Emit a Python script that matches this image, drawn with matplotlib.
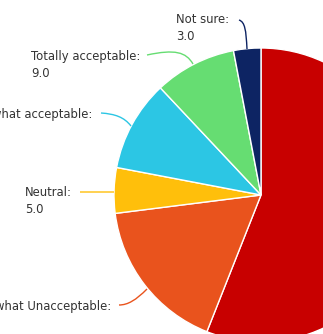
import matplotlib
matplotlib.use("Agg")
import matplotlib.pyplot as plt
from matplotlib.path import Path
from matplotlib.patches import PathPatch

categories = ["Totally Unacceptable", "Somewhat Unacceptable", "Neutral",
              "Somewhat acceptable", "Totally acceptable", "Not sure"]
values = [56.0, 17.0, 5.0, 10.0, 9.0, 3.0]
colors = ["#c80000", "#e9531d", "#ffbf0b", "#2cc6e4", "#66dd72", "#0d2463"]

W, H = 323, 334
fig = plt.figure(figsize=(W / 100, H / 100), dpi=100)
ax = fig.add_axes([0, 0, 1, 1])

cx, cy, r = 261, 195, 147
# y axis inverted: counterclock=True in data space appears clockwise on screen
ax.pie(values, colors=colors, center=(cx, cy), radius=r, startangle=-90,
       counterclock=True, wedgeprops=dict(edgecolor="white", linewidth=1.0),
       frame=True)
ax.set_xlim(0, W)
ax.set_ylim(H, 0)
ax.set_aspect("equal")
ax.axis("off")

# label anchor (x, y, horizontal alignment) and connector paths
label_pos = {
    "Not sure": (176, 13, "left"),
    "Totally acceptable": (31, 50, "left"),
    "Somewhat acceptable": (92, 108, "right"),
    "Neutral": (25, 186, "left"),
    "Somewhat Unacceptable": (111, 300, "right"),
}
connectors = {
    "Not sure": [(239, 20), (245, 22), (246, 30), (247, 49)],
    "Totally acceptable": [(147, 55), (175, 49), (186, 52), (193, 64)],
    "Somewhat acceptable": [(101, 113), (115, 114), (124, 117), (131, 126)],
    "Neutral": [(80, 192), (90, 192), (100, 192), (114, 192)],
    "Somewhat Unacceptable": [(119, 305), (128, 305), (136, 300), (147, 289)],
}

for cat, val, col in zip(categories, values, colors):
    if cat not in label_pos:
        continue
    x, y, ha = label_pos[cat]
    ax.text(x, y, f"{cat}:\n{val:.1f}", ha=ha, va="top", multialignment="left",
            fontsize=8.4, color="#333333", linespacing=1.4,
            family="DejaVu Sans")
    pts = connectors[cat]
    path = Path(pts, [Path.MOVETO, Path.CURVE4, Path.CURVE4, Path.CURVE4])
    ax.add_patch(PathPatch(path, facecolor="none", edgecolor=col, lw=1.0))

fig.savefig("out.png", dpi=100)
